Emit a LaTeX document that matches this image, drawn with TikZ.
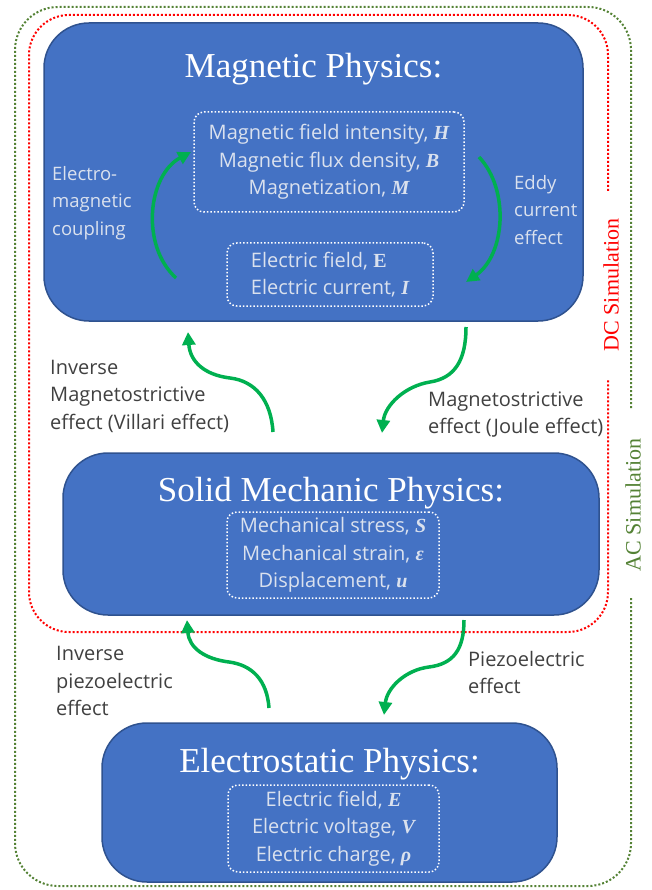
\documentclass[tikz,border=0pt]{standalone}
\usepackage{fontspec}
\setmainfont{Liberation Serif}
\setsansfont{Open Sans}
\usetikzlibrary{arrows.meta}

\definecolor{boxblue}{HTML}{4472C4}
\definecolor{boxedge}{HTML}{2F528F}
\definecolor{arrowgreen}{HTML}{00B050}
\definecolor{acgreen}{HTML}{548235}
\definecolor{softwhite}{HTML}{DAE1EE}
\definecolor{labelgray}{HTML}{404040}

\newcommand{\fieldsym}[1]{{\rmfamily\bfseries\itshape #1}}

\tikzset{
  physbox/.style={draw=boxedge, line width=1.5pt, fill=boxblue, rounded corners=45pt},
  physname/.style={text=white, font=\fontsize{35}{40}\selectfont, anchor=base},
  varbox/.style={draw=white, dotted, line width=1.5pt, rounded corners=10pt, text=softwhite,
    font=\sffamily\fontsize{20}{27.5}\selectfont, align=center, inner sep=0pt},
  sidelabel/.style={font=\sffamily\fontsize{20}{27.5}\selectfont, align=left, anchor=west, inner sep=0pt},
  innerlabel/.style={sidelabel, text=softwhite, font=\sffamily\fontsize{18.5}{27.5}\selectfont},
  effect/.style={-{Triangle[length=13pt,width=13pt]}, line width=3.5pt, draw=arrowgreen},
  simlabel/.style={font=\fontsize{22}{26}\selectfont, rotate=90, inner sep=0pt},
  simframe/.style={line width=2pt, dash pattern=on 2pt off 2pt}
}

\begin{document}
\begin{tikzpicture}[x=1pt,y=-1pt]
\useasboundingbox (0,0) rectangle (652,890);

% simulation frames
\draw[simframe, draw=acgreen, rounded corners=43pt] (631,408) |- (15,7) |- (631,886) -- (631,598);
\draw[simframe, draw=red, rounded corners=40pt] (608,191) |- (29,15) |- (608,632) -- (608,380);
\node[simlabel, text=red] (dcsim) at (611,285) {DC Simulation};
\node[simlabel, text=acgreen] (acsim) at (633,505) {AC Simulation};

% physics boxes
\node[physbox, minimum width=539pt, minimum height=298pt] (mag) at (313.5,172) {};
\node[physbox, minimum width=536pt, minimum height=162pt] (solid) at (331,534) {};
\node[physbox, minimum width=455pt, minimum height=159pt] (elec) at (329.5,802.5) {};

\node[physname] (magtitle) at (313.5,78) {Magnetic Physics:};
\node[physname] (solidtitle) at (331,501) {Solid Mechanic Physics:};
\node[physname] (electitle) at (329.5,772) {Electrostatic Physics:};

\node[varbox, minimum width=270pt, minimum height=100pt] (magfields) at (329,162)
  {Magnetic field intensity, \fieldsym{H}\\ Magnetic flux density, \fieldsym{B}\\ Magnetization, \fieldsym{M}};
\node[varbox, align=left, minimum width=206pt, minimum height=63pt] (magcurrents) at (330,274.5)
  {Electric field, {\rmfamily\bfseries E}\\ Electric current, \fieldsym{I}};
\node[varbox, minimum width=212pt, minimum height=86pt] (solidvars) at (333,555)
  {Mechanical stress, \fieldsym{S}\\ Mechanical strain, \fieldsym{ε}\\ Displacement, \fieldsym{u}};
\node[varbox, minimum width=211pt, minimum height=87pt] (elecvars) at (333.5,828.5)
  {Electric field, \fieldsym{E}\\ Electric voltage, \fieldsym{V}\\ Electric charge, \fieldsym{ρ}};

% effect labels
\node[innerlabel] (emcoupling) at (52,203) {Electro-\\magnetic\\coupling};
\node[innerlabel] (eddy) at (514,210) {Eddy\\current\\effect};
\node[sidelabel, text=labelgray] (villari) at (50,396) {Inverse\\Magnetostrictive\\effect (Villari effect)};
\node[sidelabel, text=labelgray] (joule) at (428,414.5) {Magnetostrictive\\effect (Joule effect)};
\node[sidelabel, text=labelgray] (invpiezo) at (56,681) {Inverse\\piezoelectric\\effect};
\node[sidelabel, text=labelgray] (piezo) at (468,672.5) {Piezoelectric\\effect};

% arrow ends
\coordinate (em1) at (176,278);
\coordinate (em2) at (191,152);
\coordinate (ed1) at (479,157);
\coordinate (ed2) at (466,282);
\coordinate (vi1) at (273,432);
\coordinate (vi2) at (188,332);
\coordinate (jo1) at (466,327);
\coordinate (jo2) at (382,433);
\coordinate (ip1) at (269,708);
\coordinate (ip2) at (187,620);
\coordinate (pz1) at (464,620);
\coordinate (pz2) at (384,715);

\draw[effect] (em1) .. controls (140,245) and (148,175) .. (em2);
\draw[effect] (ed1) .. controls (510,190) and (505,255) .. (ed2);
\draw[effect] (vi1) .. controls (271,400) and (255,381) .. (230,378) .. controls (205,375) and (190,362) .. (vi2);
\draw[effect] (jo1) .. controls (466,360) and (455,378) .. (430,382) .. controls (405,386) and (385,405) .. (jo2);
\draw[effect] (ip1) .. controls (267,680) and (252,665) .. (229,662) .. controls (205,659) and (189,648) .. (ip2);
\draw[effect] (pz1) .. controls (464,650) and (453,664) .. (429,667) .. controls (405,670) and (387,688) .. (pz2);
\end{tikzpicture}
\end{document}
